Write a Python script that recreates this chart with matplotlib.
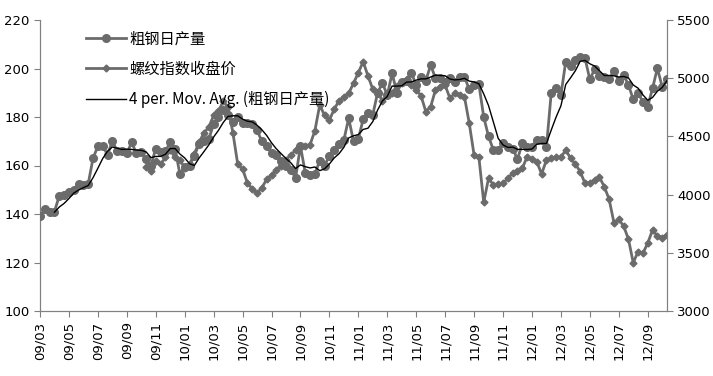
import numpy as np
import pandas as pd
import matplotlib
matplotlib.use("Agg")
import matplotlib.pyplot as plt

plt.rcParams['font.family'] = ['Noto Sans CJK SC', 'DejaVu Sans']

# crude steel daily output (left axis), one value per ten-day period from 2009-03
steel = [139, 142, 141, 141, 147.5, 148, 149, 150, 152.5, 152,
         152.5, 163, 168, 168, 164.5, 170, 166, 166, 165, 169.5,
         165, 165.5, 162.5, 160, 167, 165.5, 166, 169.5, 167, 156.5,
         159.5, 160, 164, 169, 170, 171, 177, 180, 183, 181,
         178, 180, 177.5, 177.5, 177, 174.5, 170, 168, 165, 164.5,
         162, 160, 158, 155, 168, 157, 156, 156.5, 162, 160,
         164, 166.5, 169, 170.5, 179.5, 170, 171, 179, 181.5, 181,
         190, 194, 189, 198, 190, 194.5, 195, 198.3, 193, 196.6,
         195, 201.4, 196, 196, 194.6, 196, 194.6, 196.6, 196.6, 191.4,
         193.2, 193.5, 180, 172, 166.4, 166.4, 169.2, 167.8, 167, 162.6,
         169.2, 167.6, 167.8, 170.5, 170.5, 167.5, 190, 191.8, 189, 202.8,
         201, 203.5, 204.6, 204.2, 195.5, 199.7, 196.9, 196.4, 195.5, 199.1,
         195, 197.3, 193.2, 187.3, 189.8, 186.3, 184.3, 191.8, 200.1, 192.5,
         195.5]

# rebar index close (right axis)
rebar = [None] * 22 + [
         4240, 4200, 4290, 4260, 4320, 4380, 4320, 4300,
         4230, 4260, 4350, 4450, 4530, 4580, 4680, 4720, 4800, 4750,
         4530, 4260, 4220, 4100, 4050, 4010, 4060, 4130, 4170, 4210,
         4250, 4300, 4340, 4380, 4410, 4420, 4430, 4550, 4770, 4680,
         4641, 4733, 4807, 4840, 4870, 4956, 5047, 5142, 5020, 4905,
         4884, 4800, 4870, 4876, 4930, 4960, 4990, 4940, 4899, 4850,
         4712, 4755, 4900, 4927, 4940, 4827, 4870, 4856, 4841, 4613,
         4340, 4320, 3934, 4140, 4083, 4090, 4097, 4140, 4183, 4200,
         4226, 4326, 4304, 4283, 4177, 4297, 4312, 4320, 4320, 4383,
         4312, 4263, 4197, 4097, 4103, 4125, 4149, 4068, 3960, 3759,
         3788, 3730, 3619, 3415, 3510, 3496, 3582, 3696, 3645, 3630,
         3653]

tick_labels = ['09/03', '09/05', '09/07', '09/09', '09/11', '10/01', '10/03',
               '10/05', '10/07', '10/09', '10/11', '11/01', '11/03', '11/05',
               '11/07', '11/09', '11/11', '12/01', '12/03', '12/05', '12/07',
               '12/09']

x = np.arange(len(steel))
steel_s = pd.Series(steel, dtype=float)
rebar_s = pd.Series(rebar, dtype=float)
ma = steel_s.rolling(4).mean()

gray = '#6b6b6b'
fig = plt.figure(figsize=(7.13, 3.76), dpi=100)
ax = fig.add_axes([40 / 713, 1 - 311 / 376, 627 / 713, 291 / 376])
ax2 = ax.twinx()

ok = rebar_s.notna()
l2, = ax2.plot(x[ok], rebar_s[ok], color=gray, lw=2.0, marker='D', ms=3.5,
               label='螺纹指数收盘价')
l1, = ax.plot(x, steel_s, color=gray, lw=2.0, marker='o', ms=5.5,
              label='粗钢日产量', zorder=3)
l3, = ax.plot(x, ma, color='black', lw=1, label='4 per. Mov. Avg. (粗钢日产量)', zorder=4)
ax.set_zorder(ax2.get_zorder() + 1)
ax.patch.set_visible(False)

ax.set_xlim(0, len(steel) - 1)
ax.set_ylim(100, 220)
ax.set_yticks(range(100, 221, 20))
ax2.set_ylim(3000, 5500)
ax2.set_yticks(range(3000, 5501, 500))
ax.set_xticks(np.arange(0, 6 * len(tick_labels), 6))
ax.set_xticklabels(tick_labels, rotation=90)

for a in (ax, ax2):
    a.spines['top'].set_visible(False)
    for s in ('left', 'right', 'bottom'):
        a.spines[s].set_color('#808080')
    a.tick_params(colors='#808080', labelcolor='black', labelsize=9.5, length=4)
    for t in a.get_xticklabels() + a.get_yticklabels():
        t.set_fontfamily('DejaVu Sans')

leg = ax.legend(handles=[l1, l2, l3], loc='upper left', bbox_to_anchor=(0.052, 1.01),
                frameon=False, fontsize=11, labelspacing=0.85, handlelength=2.6,
                handletextpad=0.2)

fig.savefig('out.png', dpi=100)
